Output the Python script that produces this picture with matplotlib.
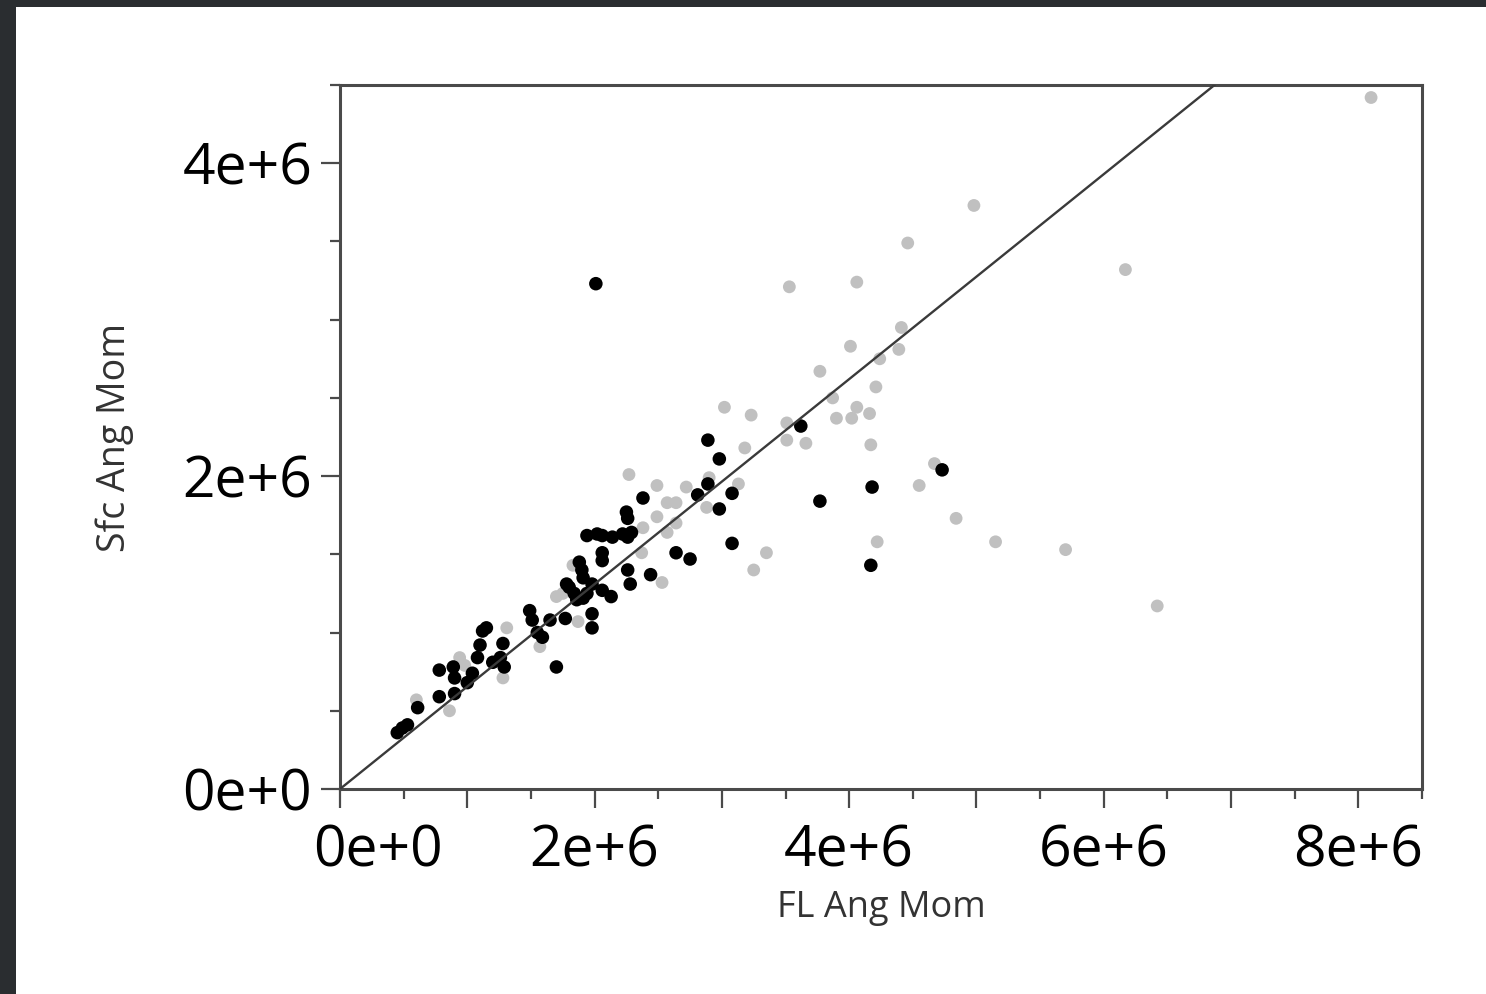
import numpy as np
import matplotlib
matplotlib.use("Agg")
import matplotlib.pyplot as plt
from matplotlib.patches import Rectangle
from matplotlib.ticker import MultipleLocator, FuncFormatter

# points, in millions
black_x = [2.01, 2.89, 2.98, 3.62, 2.89, 2.81, 3.08, 2.98, 3.08, 2.64, 2.75, 2.38,
           2.25, 2.26, 2.29, 2.26, 2.22, 2.14, 2.06, 2.02, 1.94, 2.06, 2.06, 1.88,
           1.90, 1.91, 2.26, 2.28, 2.44, 2.13, 2.06, 1.98, 1.94, 1.91, 1.86, 1.80,
           1.78, 1.84, 1.98, 1.98, 1.77, 1.65, 1.49, 1.51, 1.55, 1.59, 1.70, 1.15,
           1.12, 1.10, 1.08, 1.28, 1.29, 1.20, 1.26, 1.04, 1.00, 0.89, 0.78, 0.90,
           0.90, 0.78, 0.45, 0.49, 0.53, 0.61, 4.18, 3.77, 4.17, 4.73]
black_y = [3.23, 2.23, 2.11, 2.32, 1.95, 1.88, 1.89, 1.79, 1.57, 1.51, 1.47, 1.86,
           1.77, 1.73, 1.64, 1.61, 1.63, 1.61, 1.62, 1.63, 1.62, 1.51, 1.46, 1.45,
           1.40, 1.35, 1.40, 1.31, 1.37, 1.23, 1.27, 1.31, 1.25, 1.22, 1.21, 1.29,
           1.31, 1.25, 1.12, 1.03, 1.09, 1.08, 1.14, 1.08, 1.00, 0.97, 0.78, 1.03,
           1.01, 0.92, 0.84, 0.93, 0.78, 0.81, 0.84, 0.74, 0.68, 0.78, 0.76, 0.71,
           0.61, 0.59, 0.36, 0.39, 0.41, 0.52, 1.93, 1.84, 1.43, 2.04]

grey_x = [8.10, 4.98, 4.46, 6.17, 4.06, 3.53, 4.41, 4.01, 4.39, 4.24, 3.77, 4.21,
          3.87, 3.90, 4.02, 4.06, 4.16, 3.02, 3.23, 3.18, 3.51, 3.51, 3.66, 4.17,
          2.27, 2.49, 2.72, 2.90, 3.13, 2.57, 2.64, 2.88, 4.55, 4.67, 4.84, 5.15,
          4.22, 3.35, 3.25, 5.70, 6.42, 2.49, 2.38, 2.57, 2.64, 2.37, 2.53, 1.83,
          1.75, 1.70, 1.87, 1.57, 1.31, 1.28, 0.94, 0.98, 0.86, 0.60]
grey_y = [4.42, 3.73, 3.49, 3.32, 3.24, 3.21, 2.95, 2.83, 2.81, 2.75, 2.67, 2.57,
          2.50, 2.37, 2.37, 2.44, 2.40, 2.44, 2.39, 2.18, 2.34, 2.23, 2.21, 2.20,
          2.01, 1.94, 1.93, 1.99, 1.95, 1.83, 1.83, 1.80, 1.94, 2.08, 1.73, 1.58,
          1.58, 1.51, 1.40, 1.53, 1.17, 1.74, 1.67, 1.64, 1.70, 1.51, 1.32, 1.43,
          1.25, 1.23, 1.07, 0.91, 1.03, 0.71, 0.84, 0.79, 0.50, 0.57]

FIT_SLOPE = 0.655
SCALE = 1e6

plt.rcParams["font.family"] = ["Open Sans", "DejaVu Sans"]


def sci_label(v, pos):
    # x gets a major tick every 1e6 but only even millions carry a label,
    # and the origin label is drawn separately (it sits off-centre)
    m = round(v / SCALE)
    if m == 0 or m % 2:
        return ""
    return "%de+6" % m


def main():
    fig = plt.figure(figsize=(14.86, 9.94), dpi=100)
    fig.patch.set_facecolor("#2a2d30")
    fig.patches.append(Rectangle((16 / 1486, 0), 1, 1 - 7 / 994, transform=fig.transFigure,
                                 facecolor="white", edgecolor="none", zorder=-10))

    ax = fig.add_axes([340 / 1486, 1 - 789 / 994, 1082 / 1486, 704 / 994])
    ax.set_facecolor("white")

    gx = np.array(grey_x) * SCALE
    gy = np.array(grey_y) * SCALE
    bx = np.array(black_x) * SCALE
    by = np.array(black_y) * SCALE
    ax.scatter(gx, gy, s=85, c="#c0c0c0", edgecolors="none", zorder=2)
    ax.scatter(bx, by, s=95, c="black", edgecolors="none", zorder=3)
    ax.axline((0, 0), slope=FIT_SLOPE, color="#3a3a3a", lw=1.7, zorder=4)

    ax.set_xlim(0, 8.5e6)
    ax.set_ylim(0, 4.5e6)

    ax.xaxis.set_major_locator(MultipleLocator(1e6))
    ax.xaxis.set_minor_locator(MultipleLocator(0.5e6))
    ax.xaxis.set_major_formatter(FuncFormatter(sci_label))
    ax.yaxis.set_major_locator(MultipleLocator(2e6))
    ax.yaxis.set_minor_locator(MultipleLocator(0.5e6))
    ax.yaxis.set_major_formatter(FuncFormatter(lambda v, p: "%de+%d" % (round(v / SCALE), 6 if v else 0)))

    for sp in ax.spines.values():
        sp.set_color("#4a4a4a")
        sp.set_linewidth(2.2)

    ax.tick_params(axis="both", which="major", length=14, width=1.6, color="#4a4a4a",
                   labelsize=41, labelcolor="black")
    ax.tick_params(axis="both", which="minor", length=7, width=1.6, color="#4a4a4a")
    ax.tick_params(axis="x", which="major", pad=11)
    ax.tick_params(axis="y", which="major", pad=6)

    # origin label on x, nudged right like in the source figure
    ax.annotate("0e+0", xy=(0, 0), xycoords=("data", "axes fraction"),
                xytext=(27, -25), textcoords="offset points",
                ha="center", va="top", fontsize=41)

    ax.set_xlabel("FL Ang Mom", fontsize=26, color="#333333")
    ax.set_ylabel("Sfc Ang Mom", fontsize=27, color="#333333")
    ax.xaxis.set_label_coords(0.5, -0.143)
    ax.yaxis.set_label_coords(-0.19, 0.5)

    fig.savefig("out.png", dpi=100)


if __name__ == "__main__":
    main()
